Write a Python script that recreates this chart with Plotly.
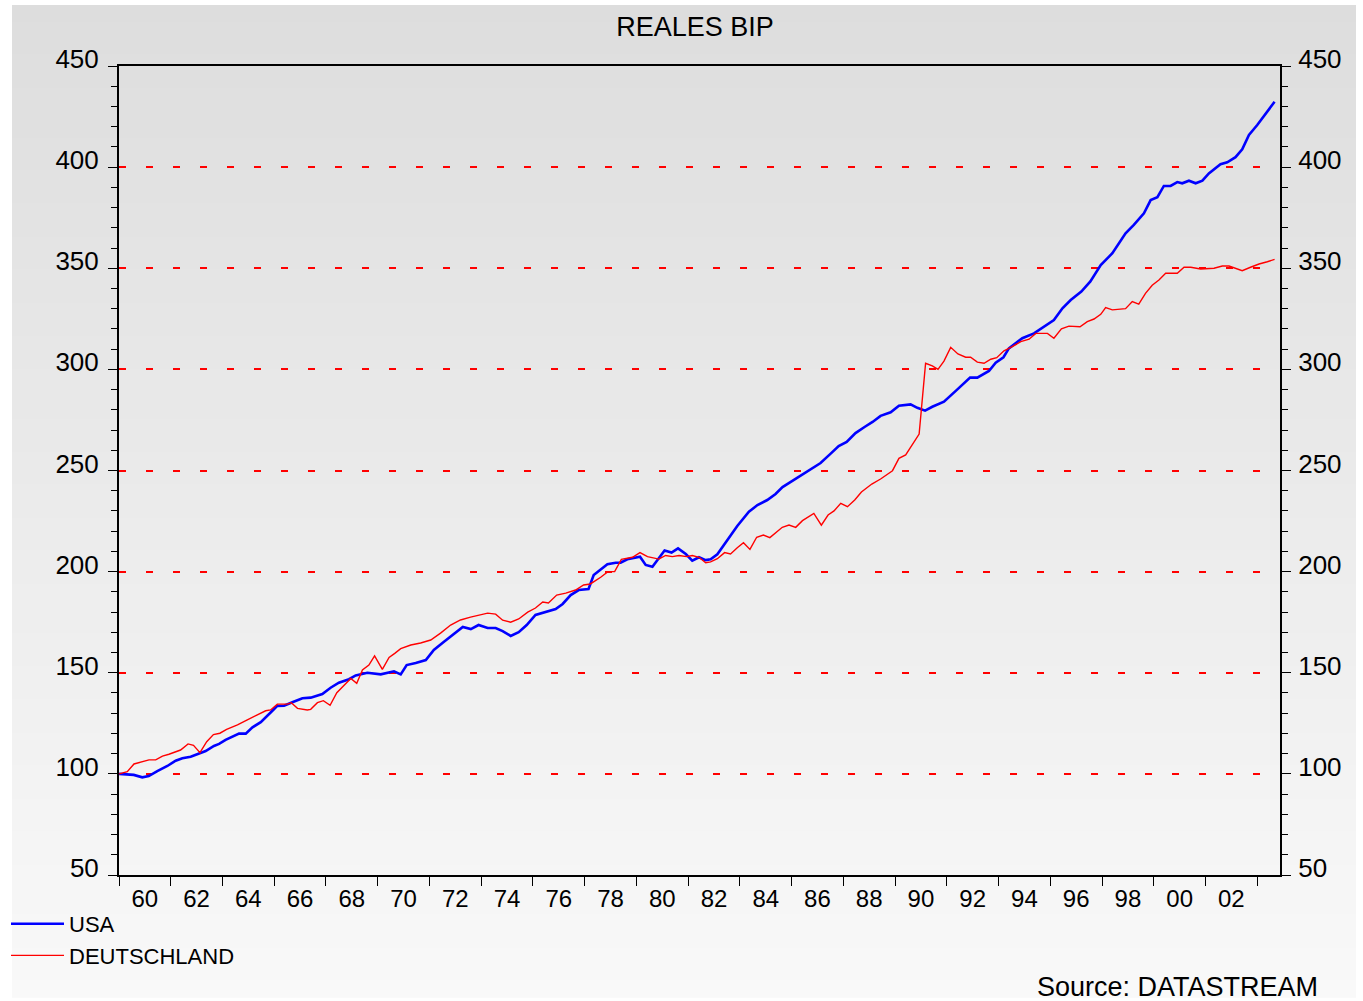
import plotly.graph_objects as go

# ---------------- data ----------------
usa_t = [1960.0, 1960.57, 1960.9, 1961.15, 1961.48, 1961.87, 1962.19, 1962.45, 1962.77, 1963.09,
         1963.35, 1963.67, 1963.87, 1964.12, 1964.38, 1964.64, 1964.9, 1965.16, 1965.48, 1965.74,
         1965.93, 1966.12, 1966.38, 1966.7, 1967.09, 1967.41, 1967.86, 1968.18, 1968.5, 1968.89,
         1969.15, 1969.6, 1970.12, 1970.63, 1970.89, 1971.12, 1971.47, 1971.86, 1972.17, 1972.55,
         1972.9, 1973.29, 1973.6, 1973.9, 1974.25, 1974.56, 1974.83, 1975.14, 1975.45, 1975.76,
         1976.1, 1976.48, 1976.88, 1977.15, 1977.46, 1977.77, 1978.15, 1978.35, 1978.62, 1978.88,
         1979.2, 1979.39, 1979.65, 1980.14, 1980.36, 1980.62, 1981.09, 1981.36, 1981.61, 1981.91,
         1982.16, 1982.42, 1982.68, 1982.87, 1983.13, 1983.52, 1983.9, 1984.35, 1984.68, 1985.06,
         1985.38, 1985.65, 1985.96, 1986.35, 1986.73, 1987.12, 1987.5, 1987.82, 1988.13, 1988.47,
         1988.82, 1989.13, 1989.44, 1989.83, 1990.15, 1990.6, 1990.86, 1991.16, 1991.44, 1991.89,
         1992.41, 1992.9, 1993.18, 1993.63, 1993.89, 1994.19, 1994.4, 1994.92, 1995.37, 1995.75,
         1996.14, 1996.47, 1996.79, 1997.2, 1997.55, 1997.95, 1998.4, 1998.91, 1999.23, 1999.62,
         1999.88, 2000.14, 2000.39, 2000.65, 2000.91, 2001.1, 2001.36, 2001.62, 2001.88, 2002.13,
         2002.58, 2002.84, 2003.16, 2003.42, 2003.68, 2004.0, 2004.32, 2004.67]
usa_v = [100.0, 99.5, 98.3, 98.9, 101.4, 103.9, 106.5, 107.7, 108.5, 110.2,
         111.3, 113.8, 114.8, 116.8, 118.4, 119.9, 119.9, 123.0, 125.6, 128.6,
         131.2, 133.6, 133.7, 135.4, 137.4, 137.7, 139.5, 142.6, 145.1, 146.8,
         148.7, 150.0, 149.2, 150.7, 149.2, 153.8, 154.8, 156.3, 161.3, 165.2,
         168.7, 172.6, 171.6, 173.6, 172.1, 172.1, 170.6, 168.2, 170.1, 173.6,
         178.6, 180.0, 181.5, 184.0, 188.4, 190.9, 191.4, 198.3, 200.8, 203.6,
         204.4, 204.4, 206.1, 207.4, 203.3, 202.4, 210.4, 209.4, 211.5, 208.7,
         205.4, 207.1, 205.7, 206.1, 208.6, 215.6, 222.6, 229.6, 232.9, 235.4,
         238.4, 241.8, 244.3, 247.3, 250.2, 253.7, 258.2, 262.1, 264.1, 268.5,
         271.5, 274.0, 277.0, 278.8, 282.0, 282.7, 281.0, 279.6, 281.5, 284.0,
         290.1, 295.9, 295.9, 299.2, 303.3, 306.0, 310.4, 315.4, 317.8, 321.0,
         324.4, 330.2, 334.3, 338.5, 343.5, 351.6, 357.4, 367.3, 371.4, 377.2,
         383.7, 385.1, 390.7, 390.7, 392.6, 392.0, 393.3, 392.0, 393.3, 396.9,
         401.4, 402.4, 404.9, 408.8, 415.9, 420.8, 426.1, 432.3]

de_t = [1960.0, 1960.32, 1960.58, 1960.9, 1961.16, 1961.42, 1961.68, 1961.93, 1962.38, 1962.67,
        1962.88, 1963.13, 1963.39, 1963.65, 1963.9, 1964.16, 1964.58, 1964.96, 1965.35, 1965.67,
        1965.86, 1966.12, 1966.51, 1966.66, 1966.9, 1967.28, 1967.41, 1967.67, 1967.9, 1968.16,
        1968.42, 1968.7, 1968.96, 1969.19, 1969.41, 1969.66, 1969.88, 1970.18, 1970.44, 1970.66,
        1970.89, 1971.28, 1971.66, 1972.05, 1972.43, 1972.82, 1973.2, 1973.59, 1973.98, 1974.25,
        1974.56, 1974.83, 1975.14, 1975.45, 1975.8, 1976.1, 1976.38, 1976.6, 1976.92, 1977.27,
        1977.65, 1977.96, 1978.22, 1978.62, 1978.9, 1979.16, 1979.42, 1979.85, 1980.14, 1980.43,
        1980.87, 1981.13, 1981.39, 1981.65, 1981.94, 1982.16, 1982.42, 1982.68, 1982.87, 1983.13,
        1983.41, 1983.64, 1983.9, 1984.14, 1984.39, 1984.65, 1984.91, 1985.16, 1985.64, 1985.9,
        1986.16, 1986.42, 1986.86, 1987.15, 1987.41, 1987.64, 1987.9, 1988.16, 1988.44, 1988.7,
        1989.1, 1989.44, 1989.9, 1990.15, 1990.41, 1990.67, 1990.93, 1991.18, 1991.44, 1991.66,
        1991.89, 1992.15, 1992.43, 1992.73, 1992.92, 1993.18, 1993.44, 1993.7, 1993.93, 1994.21,
        1994.53, 1994.86, 1995.18, 1995.44, 1995.89, 1996.14, 1996.43, 1996.72, 1997.15, 1997.43,
        1997.69, 1997.95, 1998.14, 1998.4, 1998.91, 1999.17, 1999.42, 1999.68, 1999.94, 2000.2,
        2000.46, 2000.91, 2001.17, 2001.43, 2001.81, 2002.33, 2002.65, 2002.91, 2003.16, 2003.42,
        2003.74, 2004.07, 2004.39, 2004.67]
de_v = [100.0, 101.1, 104.9, 106.0, 106.9, 106.9, 108.8, 109.7, 111.8, 114.8,
        114.1, 110.5, 115.9, 119.4, 120.1, 122.0, 124.2, 126.7, 129.1, 131.2,
        131.6, 134.5, 134.5, 135.2, 132.4, 131.6, 131.9, 135.2, 136.2, 133.9,
        140.1, 143.9, 147.2, 144.8, 151.4, 153.8, 158.3, 151.7, 157.6, 159.6,
        161.9, 163.7, 164.7, 166.2, 169.6, 173.6, 176.1, 177.5, 178.5, 179.5,
        179.0, 176.0, 175.0, 176.6, 180.0, 182.0, 185.0, 184.5, 188.4, 189.4,
        190.9, 193.4, 193.9, 197.2, 200.0, 200.0, 206.1, 207.1, 209.4, 207.4,
        206.2, 208.0, 207.4, 208.0, 207.4, 208.0, 207.1, 204.4, 204.8, 206.4,
        209.4, 208.7, 211.8, 214.3, 211.0, 217.0, 218.1, 216.8, 221.9, 223.0,
        221.9, 225.2, 228.8, 223.0, 228.0, 230.0, 233.8, 232.1, 235.4, 239.4,
        243.3, 245.8, 249.9, 256.0, 257.7, 262.6, 268.0, 303.0, 301.7, 300.0,
        304.1, 310.9, 307.6, 306.0, 306.0, 303.6, 303.0, 305.0, 305.8, 309.2,
        311.2, 313.7, 314.9, 317.8, 317.8, 315.4, 320.0, 321.4, 321.1, 323.6,
        324.9, 327.2, 330.5, 329.4, 330.0, 333.5, 332.3, 337.6, 341.6, 344.2,
        347.5, 347.5, 350.5, 350.5, 349.6, 350.0, 351.1, 351.1, 350.0, 348.8,
        350.5, 352.1, 353.2, 354.4]

y_ticks = [50, 100, 150, 200, 250, 300, 350, 400, 450]
x_label_pos = [1961 + 2 * i for i in range(22)]
x_labels = ["60", "62", "64", "66", "68", "70", "72", "74", "76", "78", "80",
            "82", "84", "86", "88", "90", "92", "94", "96", "98", "00", "02"]

# ---------------- geometry / styling ----------------
W, H = 1363, 1001
L, R, T, B = 119, 1280, 66, 875  # plot area in pixels
FONT = "Liberation Sans"


def px_x(x):
    return (x - L) / (R - L)


def px_y(y):
    return (B - y) / (B - T)


fig = go.Figure()
fig.add_trace(go.Scatter(x=usa_t, y=usa_v, mode="lines", name="USA",
                         line=dict(color="#0000ff", width=2.6)))
fig.add_trace(go.Scatter(x=de_t, y=de_v, mode="lines", name="DEUTSCHLAND",
                         line=dict(color="#ff0000", width=1.4)))
# empty trace so the mirrored right-hand value axis is drawn
fig.add_trace(go.Scatter(x=[None], y=[None], yaxis="y2", showlegend=False,
                         hoverinfo="skip", mode="lines"))

# background gradient (grey at top -> almost white at bottom)
shapes = []
top_px, bot_px = 5, 997
n = 60
for i in range(n):
    y0 = top_px + (bot_px - top_px) * i / n
    y1 = top_px + (bot_px - top_px) * (i + 1) / n + 0.8
    g = round(221 + (249 - 221) * (i + 0.5) / n)
    shapes.append(dict(type="rect", xref="paper", yref="paper", layer="below",
                       x0=px_x(12), x1=px_x(1356), y0=px_y(y1), y1=px_y(y0),
                       fillcolor=f"rgb({g},{g},{g})", line=dict(width=0)))

yfont = dict(family=FONT, size=26, color="black")
yaxis_common = dict(range=[50, 450], tickmode="array", tickvals=y_ticks,
                    ticks="outside", ticklen=9, tickwidth=1, tickcolor="black",
                    showline=True, linewidth=2, linecolor="black", zeroline=False,
                    tickfont=yfont, ticklabelshift=-7,
                    minor=dict(dtick=10, ticks="outside", ticklen=6, tickwidth=1,
                               tickcolor="black", showgrid=False))

fig.update_layout(
    width=W, height=H,
    margin=dict(l=L, r=W - R, t=T, b=H - B, pad=0, autoexpand=False),
    paper_bgcolor="white",
    plot_bgcolor="rgba(0,0,0,0)",
    shapes=shapes,
    font=dict(family=FONT, size=26, color="black"),
    title=dict(text="REALES BIP", x=px_x(695), xref="paper", xanchor="center",
               y=1 - 27 / H, yref="container", yanchor="middle",
               font=dict(family=FONT, size=27, color="black")),
    xaxis=dict(range=[1960.0, 2004.88], tickmode="array", tickvals=x_label_pos,
               ticktext=x_labels, ticks="", showgrid=False, zeroline=False,
               showline=True, linewidth=2, linecolor="black", mirror=True,
               tickfont=dict(family=FONT, size=24, color="black"), ticklabelstandoff=1,
               automargin=False,
               minor=dict(tick0=1960, dtick=2, ticks="outside", ticklen=9,
                          tickwidth=1, tickcolor="black", showgrid=False)),
    yaxis=dict(**yaxis_common, side="left", showgrid=True, gridcolor="#ff0000",
               gridwidth=2, griddash="7px,20px", ticklabelstandoff=4, automargin=False),
    yaxis2=dict(**yaxis_common, side="right", overlaying="y", anchor="x",
                showgrid=False, ticklabelstandoff=2, automargin=False),
    legend=dict(x=px_x(6), xanchor="left", y=px_y(903), yanchor="top",
                bgcolor="rgba(0,0,0,0)", font=dict(family=FONT, size=22, color="black"),
                tracegroupgap=0, itemwidth=53),
    showlegend=True,
    annotations=[dict(text="Source: DATASTREAM", xref="paper", yref="paper",
                      x=px_x(1320), xanchor="right", y=px_y(970), yanchor="top",
                      showarrow=False, font=dict(family=FONT, size=27, color="black"))],
)

fig.write_html("out.html", config={"displayModeBar": False},
               post_script="document.body.style.margin='0';document.body.style.overflow='hidden';")
